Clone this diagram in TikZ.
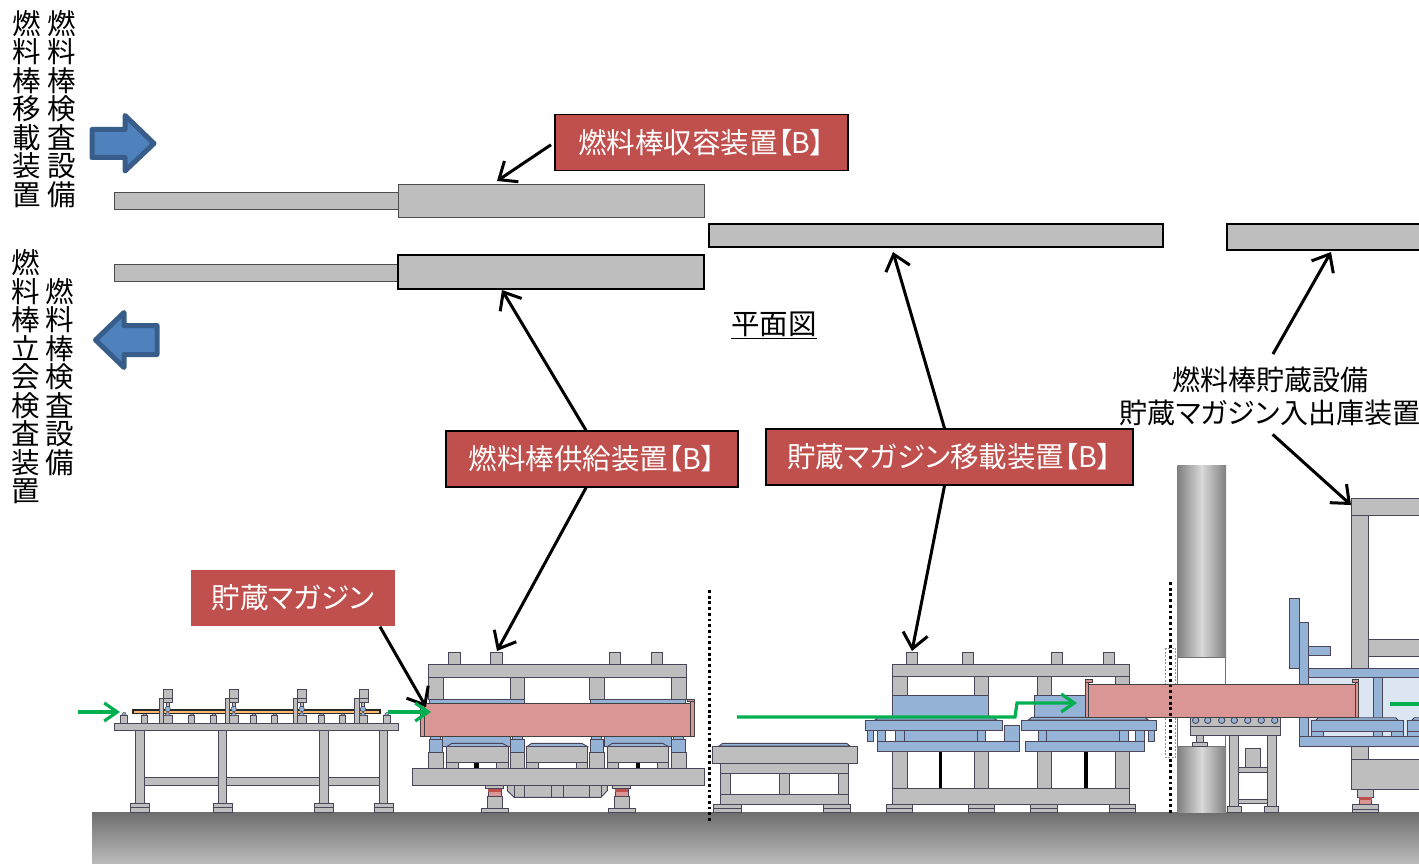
\documentclass[tikz,border=0pt]{standalone}
\usepackage{fontspec}
\setmainfont[RawFeature=+palt]{Noto Sans CJK JP}
\usetikzlibrary{arrows.meta}

\definecolor{steelgray}{HTML}{BEBEBE}
\definecolor{steelline}{HTML}{4A4558}
\definecolor{bluepart}{HTML}{95B3D7}
\definecolor{paleblue}{HTML}{DCE6F2}
\definecolor{pinkpart}{HTML}{D99694}
\definecolor{redtag}{HTML}{C0504D}
\definecolor{greenflow}{HTML}{00B050}
\definecolor{arrowfill}{HTML}{4F81BD}
\definecolor{arrowline}{HTML}{385D8A}

\begin{document}
\begin{tikzpicture}[x=1pt,y=-1pt]

  \edef\floor{812}
  \tikzstyle{steel}=[draw=steelline,fill=steelgray,line width=0.9pt]
  \tikzstyle{blue}=[draw=steelline,fill=bluepart,line width=0.9pt]
  \tikzstyle{pink}=[draw=black!75,fill=pinkpart,line width=0.9pt]
  \tikzstyle{jack}=[draw=steelline,fill=pinkpart,line width=0.7pt]
  \tikzstyle{plan}=[draw=black,fill=steelgray,line width=1.4pt]
  \tikzstyle{planrod}=[draw=black!70,fill=steelgray,line width=0.9pt]
  \tikzstyle{tag}=[fill=redtag,text=white,draw=black,line width=1.4pt,font=\fontsize{28.5}{33}\selectfont,minimum height=56pt,inner sep=0pt]
  \tikzstyle{bigarrow}=[draw=arrowline,fill=arrowfill,line width=5pt,line join=round]
  \tikzstyle{tall}=[font=\fontsize{28.5}{28.5}\selectfont,align=center,inner sep=0pt]
  \tikzstyle{plain}=[font=\fontsize{28.5}{33}\selectfont,align=center,inner sep=0pt]
  \tikzstyle{call}=[line width=3pt,-{Straight Barb[length=15pt,width=25pt]}]
  \tikzstyle{flow}=[draw=greenflow,line width=3.2pt,-{Straight Barb[length=13pt,width=18pt]}]
  \tikzstyle{divider}=[line width=2.8pt,dash pattern=on 2.8pt off 2.9pt]

  \clip (0,0) rectangle (1419,864);

  % floor
  \foreach \i in {0,...,51}
    {
      \pgfmathsetmacro{\tone}{57 - 0.59 * \i}
      \fill[black!\tone] (92,\floor+\i) rectangle (1419,864);
    }

  % plan view
  \draw[planrod] (114,192) rectangle (398,209);
  \draw[planrod] (398,184) rectangle (704,217);
  \draw[planrod] (114,264) rectangle (398,281);
  \draw[plan] (398,255) rectangle (704,289);
  \draw[plan] (709,224) rectangle (1163,247);
  \draw[plan] (1227,224) rectangle (1425,250);

  % big arrows
  \draw[bigarrow] (92,129.5) -- (125,129.5) -- (125,115.5) -- (154,143.5) -- (125,171) -- (125,157.5) -- (92,157.5) -- cycle;
  \draw[bigarrow] (157,325.5) -- (124,325.5) -- (124,312.5) -- (95.5,340) -- (124,367.5) -- (124,354.5) -- (157,354.5) -- cycle;

  % side labels
  \node[tall] (movetext) at (27,109) {燃\\料\\棒\\移\\載\\装\\置};
  \node[tall] (checktext) at (62,109) {燃\\料\\棒\\検\\査\\設\\備};
  \node[tall] (witnesstext) at (26,377) {燃\\料\\棒\\立\\会\\検\\査\\装\\置};
  \node[tall] (checktextb) at (60,377) {燃\\料\\棒\\検\\査\\設\\備};
  \node[plain] (plantext) at (774,325) {\underline{平面図}};

  % rod table
  \draw[steel] (114.3,723.3) rectangle (398.3,730.7);
  \draw[steel] (144,777.7) rectangle (379.3,785.7);
  \foreach \xa/\xb in {135.7/144,218.3/226.7,319.7/328,379.3/387.3}
    \draw[steel] (\xa,730.7) rectangle (\xb,803.3);
  \foreach \xa/\xb in {130.3/149.7,213.3/232.7,314.3/333.7,374/393.3}
    {
      \draw[steel] (\xa,803.3) rectangle (\xb,\floor);
      \draw[steelline,line width=0.7pt] (\xa,807.6) -- (\xb,807.6);
    }
  \foreach \xa/\xb in {120.3/127.3,141.3/147.7,188.3/194.7,210.3/216.7,250.3/256.7,271.3/277.7,318/324.7,339.3/345.7,383.3/390}
    {
      \draw[blue,line width=0.5pt] (\xa+1.5,715) -- (\xa+3,712.5) -- (\xb-2,712.5) -- (\xb-1,715) -- cycle;
      \draw[steel] (\xa,715) rectangle (\xb,723.3);
    }
  \draw[draw=black!85,fill=orange!55!white,line width=1.2pt] (133,710) rectangle (380,713.7);
  \foreach \c in {167.7,233.7,301.7,363}
    {
      \draw[steel] (\c-8.3,698.3) rectangle (\c-4,723.3);
      \draw[steel] (\c-1.7,702.3) rectangle (\c+1.7,706.7);
      \draw[steel] (\c-4,715.7) rectangle (\c+4.7,723.3);
      \draw[blue,line width=0.5pt] (\c-3,715.7) -- (\c,711.5) -- (\c+3,715.7) -- cycle;
      \draw[blue,line width=0.5pt] (\c,709) circle (2.7);
      \draw[steel] (\c-4,689.3) rectangle (\c+5,702.3);
      \draw[steelline,line width=0.6pt] (\c-4,698.7) -- (\c+5,698.7);
    }

  % fuel rod supply machine
  \foreach \xa/\xb in {448.3/460,490.3/502,609.3/620.7,651.3/662.7}
    \draw[steel] (\xa,652.3) rectangle (\xb,664.3);
  \draw[steel] (428.3,664.3) rectangle (686,677);
  \foreach \xa/\xb in {428.3/443.7,510/524.7,589.3/604.3,671/686}
    {
      \draw[steel] (\xa,677) rectangle (\xb,699.3);
      \draw[steel] (\xa,752.7) rectangle (\xb,768.3);
    }
  \draw[blue] (429,699.3) rectangle (524.3,703.7);
  \draw[blue] (590,699.3) rectangle (685.7,703.7);
  \foreach \xa/\xb in {442.7/510.7,604/671.7}
    \draw[blue] (\xa,736.7) rectangle (\xb,746);
  \foreach \xa/\xb in {429.3/442.7,510.7/524,590.3/603.7,671.7/685}
    {
      \draw[blue] (\xa+1.3,736.7) rectangle (\xb-2,739.3);
      \draw[blue] (\xa,739.3) rectangle (\xb,752.7);
    }
  \foreach \xa/\xb in {446.7/508.3,526.7/587.7,607.3/668.7}
    {
      \draw[blue] (\xa,746.7) -- (\xa+5,743.3) -- (\xb-6,743.3) -- (\xb,746.7) -- cycle;
      \draw[steel] (\xa,746.7) rectangle (\xb,762.7);
      \draw[steel] (\xa,762.7) rectangle (\xa+11.5,768.3);
      \draw[steel] (\xb-11.5,762.7) rectangle (\xb,768.3);
    }
  \foreach \xa/\xb in {474/478.7,635.7/639.7}
    \fill[black] (\xa,762.7) rectangle (\xb,768.3);
  \draw[steel] (507.3,785) -- (507.3,790.7) -- (514,797.3) -- (601,797.3) -- (607.3,790.7) -- (607.3,785) -- cycle;
  \foreach \x in {514,524.3,551.7,563,589.7,601}
    \draw[steelline,line width=0.8pt] (\x,785) -- (\x,797.3);
  \draw[steel] (412.3,768.3) rectangle (704,785);
  \foreach \d in {0,127}
    {
      \draw[steel] (485.3+\d,785) rectangle (503.7+\d,788.7);
      \draw[jack] (488.3+\d,788.7) rectangle (501+\d,796);
      \fill[redtag] (488.3+\d,788.7) rectangle (501+\d,791.7);
      \draw[steel] (487.3+\d,796) rectangle (502.7+\d,808.3);
      \draw[steel] (481.3+\d,808.3) rectangle (508.3+\d,\floor);
    }
  \draw[pink] (420.7,703.7) rectangle (424.3,736.7);
  \draw[pink] (424.3,703.7) rectangle (690.7,736.7);
  \draw[pink] (690.7,701.7) rectangle (694,736.7);
  \draw[pink] (687.3,699.3) rectangle (694,701.7);

  % middle table
  \draw[blue] (719,746) -- (722.7,743.3) -- (846.7,743.3) -- (850,746) -- cycle;
  \draw[steel] (712.3,746.3) rectangle (857,763);
  \draw[steel] (720,763) rectangle (848.3,773.3);
  \foreach \xa/\xb in {720/730.7,779.3/789.7,838.3/848.3}
    \draw[steel] (\xa,773.3) rectangle (\xb,794);
  \draw[steel] (720,794) rectangle (848.3,804);
  \foreach \xa/\xb in {713.7/741,823.7/850.7}
    {
      \draw[steel] (\xa,804) rectangle (\xb,\floor);
      \draw[steelline,line width=0.7pt] (\xa,808.3) -- (\xb,808.3);
    }

  % magazine transfer machine
  \foreach \xa/\xb in {906.7/917.7,962.3/973.3,1051.3/1062.3,1103.3/1114.7}
    \draw[steel] (\xa,652.3) rectangle (\xb,664);
  \draw[steel] (892.7,664) rectangle (1129.3,676.7);
  \foreach \xa/\xb in {892.7/907,974.3/988.7,1037/1051.7,1115/1129.3}
    {
      \draw[steel] (\xa,676.7) rectangle (\xb,695);
      \draw[steel] (\xa,751.7) rectangle (\xb,788.3);
    }
  \foreach \xa/\xb in {938.7/942.3,1084/1087.7}
    \fill[black] (\xa,751.7) rectangle (\xb,788.3);
  \draw[steel] (892.7,788.3) rectangle (1129.3,804);
  \foreach \xa/\xb in {886.3/912.7,968.3/994.7,1030.7/1057.7,1109/1135}
    {
      \draw[steel] (\xa,804) rectangle (\xb,\floor);
      \draw[steelline,line width=0.7pt] (\xa,808.3) -- (\xb,808.3);
    }
  \draw[blue] (892.7,695) rectangle (988.7,717.3);
  \draw[blue] (1034.3,695) rectangle (1085.7,717.3);
  \foreach \xa/\xb in {867.7/873.3,877.3/885.7,895.7/904,904/977.3,977.3/985.7,1038/1046.7,1046.7/1119.3,1119.3/1128.3,1135.3/1144.3,1148.3/1154}
    \draw[blue] (\xa,730.7) rectangle (\xb,741.7);
  \draw[blue] (875,720) -- (878.3,717.3) -- (993,717.3) -- (996.7,720) -- cycle;
  \draw[blue] (1028.3,720) -- (1031.7,717.3) -- (1145,717.3) -- (1148.3,720) -- cycle;
  \draw[blue] (865.7,720) rectangle (1002.7,730.7);
  \draw[blue] (1021.3,720) rectangle (1156.7,730.7);
  \draw[blue] (1004.3,725.3) rectangle (1019.3,741.7);
  \draw[blue] (877,741.7) rectangle (1019.3,751.7);
  \draw[blue] (1025.3,741.7) rectangle (1144.3,751.7);

  % storage pillar
  \shade[left color=black!50,right color=black!50,middle color=black!15] (1177.3,465) rectangle (1226,657.3);
  \shade[left color=black!50,right color=black!50,middle color=black!15] (1177.3,746) rectangle (1226,\floor);
  \draw[black!55,line width=0.9pt] (1177.3,657.3) rectangle (1225.3,746);
  \draw[steelline!60,line width=0.6pt,dash pattern=on 2pt off 1.5pt] (1165.7,648.3) rectangle (1175.7,757.7);

  % roller stand
  \draw[steel] (1190,717.3) rectangle (1280.7,726.7);
  \draw[steel] (1190,726.7) rectangle (1280.7,735.7);
  \foreach \x in {1195.7,1207.7,1221.7,1234.3,1247.7,1261.3,1274.7}
    \draw[blue] (\x,720.3) circle (3.2);
  \draw[steel] (1196.3,735.7) rectangle (1203.7,742.7);
  \draw[steel] (1192.3,742.7) rectangle (1207.7,746);
  \draw[steel] (1229.3,735.7) rectangle (1238.7,806.7);
  \draw[steel] (1267.3,735.7) rectangle (1276.7,806.7);
  \draw[steel] (1245.3,748.7) rectangle (1260.7,767.3);
  \draw[steel] (1238.7,767.3) rectangle (1267.3,772.7);
  \draw[steel] (1238.7,799.3) rectangle (1267.3,803.3);
  \draw[steel] (1227.3,806.7) rectangle (1241.7,812.7);
  \draw[steel] (1264.3,806.7) rectangle (1278.7,812.7);

  % storage machine
  \draw[steel] (1351.7,515.3) rectangle (1368.7,668.3);
  \draw[steel] (1351.7,498.3) rectangle (1425,515.3);
  \draw[steel] (1368.3,639) rectangle (1425,656.3);
  \draw[steel] (1351.7,746.3) rectangle (1368.7,759);
  \draw[steel] (1351.7,759) rectangle (1425,789);
  \draw[steel] (1357.3,789) rectangle (1373.7,797.3);
  \draw[jack] (1359.3,797.3) rectangle (1371.7,804.3);
  \fill[redtag] (1359.3,797.3) rectangle (1371.7,800);
  \draw[steel] (1352.3,804.3) rectangle (1378.7,\floor);
  \draw[steelline,line width=0.7pt] (1352.3,809) -- (1378.7,809);
  \fill[paleblue] (1308.7,677.7) rectangle (1425,736.7);
  \draw[blue] (1289.3,598.3) rectangle (1299,668.3);
  \draw[blue] (1299.3,622.7) rectangle (1308.7,736.7);
  \draw[blue] (1308.7,646) rectangle (1330,655.7);
  \draw[blue] (1308.7,668.3) rectangle (1425,677.7);
  \draw[blue] (1373.3,677.7) rectangle (1382.7,736.7);
  \foreach \xa/\xb in {1311.3/1323.3,1391.7/1403.3,1407.3/1425}
    \draw[blue] (\xa,731.7) rectangle (\xb,736.7);
  \draw[blue] (1315.7,720.3) -- (1318.3,717.7) -- (1395.7,717.7) -- (1398.3,720.3) -- cycle;
  \draw[blue] (1411.7,720.3) -- (1414.3,717.7) -- (1425,717.7) -- (1425,720.3) -- cycle;
  \draw[blue] (1311.3,720.3) rectangle (1403.3,731.7);
  \draw[blue] (1407.3,720.3) rectangle (1425,731.7);
  \draw[blue] (1299.3,736.7) rectangle (1425,746.3);

  % magazine on the way to storage
  \draw[pink] (1085.7,682.7) rectangle (1088.7,717.3);
  \draw[pink] (1085.3,679.3) rectangle (1092.3,682.7);
  \draw[pink] (1088.7,684.3) rectangle (1355.7,717.3);
  \draw[pink] (1355.7,681.7) rectangle (1358.7,717.3);
  \draw[pink] (1352.3,679.3) rectangle (1358.7,682.3);

  % dividers
  \draw[divider] (709.5,590) -- (709.5,822);
  \draw[divider] (1170.5,582) -- (1170.5,815);

  % labels
  \node[tag,minimum width=293pt] (storetag) at (701.5,142.5) {燃料棒収容装置【B】};
  \node[tag,minimum width=292pt] (supplytag) at (592,459) {燃料棒供給装置【B】};
  \node[tag,minimum width=367pt] (movetag) at (949.5,457) {貯蔵マガジン移載装置【B】};
  \node[tag,draw=none,minimum width=204pt] (magtag) at (293,598) {貯蔵マガジン};
  \node[plain,font=\fontsize{28}{33}\selectfont] (racktext) at (1270,396) {燃料棒貯蔵設備\\貯蔵マガジン入出庫装置};

  % callouts
  \coordinate (storetip) at (497,181);
  \coordinate (supplyup) at (502,290);
  \coordinate (supplydown) at (497,651);
  \coordinate (moveup) at (893,252);
  \coordinate (movedown) at (912,651);
  \coordinate (rackup) at (1331,252);
  \coordinate (rackdown) at (1351,505);
  \coordinate (magtip) at (426,707);
  \draw[call,shorten <=4pt] (storetag.west) -- (storetip);
  \draw[call] ([xshift=-6pt]supplytag.north) -- (supplyup);
  \draw[call] ([xshift=-6pt]supplytag.south) -- (supplydown);
  \draw[call] ([xshift=-5pt]movetag.north) -- (moveup);
  \draw[call] ([xshift=-5pt]movetag.south) -- (movedown);
  \draw[call,shorten <=14pt] ([xshift=-4pt]racktext.north) -- (rackup);
  \draw[call,shorten <=13pt] ([xshift=-7pt]racktext.south) -- (rackdown);
  \draw[call] ([xshift=87pt]magtag.south) -- (magtip);

  % flow arrows
  \coordinate (flowa) at (78,712);
  \coordinate (flowb) at (120,712);
  \coordinate (flowc) at (388,712);
  \coordinate (flowd) at (431,712);
  \coordinate (flowe) at (737,717);
  \coordinate (flowf) at (1077,703);
  \coordinate (flowg) at (1390,704);
  \coordinate (flowh) at (1425,704);
  \draw[flow] (flowa) -- (flowb);
  \draw[flow] (flowc) -- (flowd);
  \draw[flow] (flowe) -- (1015,717) -- (1017,703) -- (flowf);
  \draw[greenflow,line width=3.2pt] (flowg) -- (flowh);
\end{tikzpicture}
\end{document}
